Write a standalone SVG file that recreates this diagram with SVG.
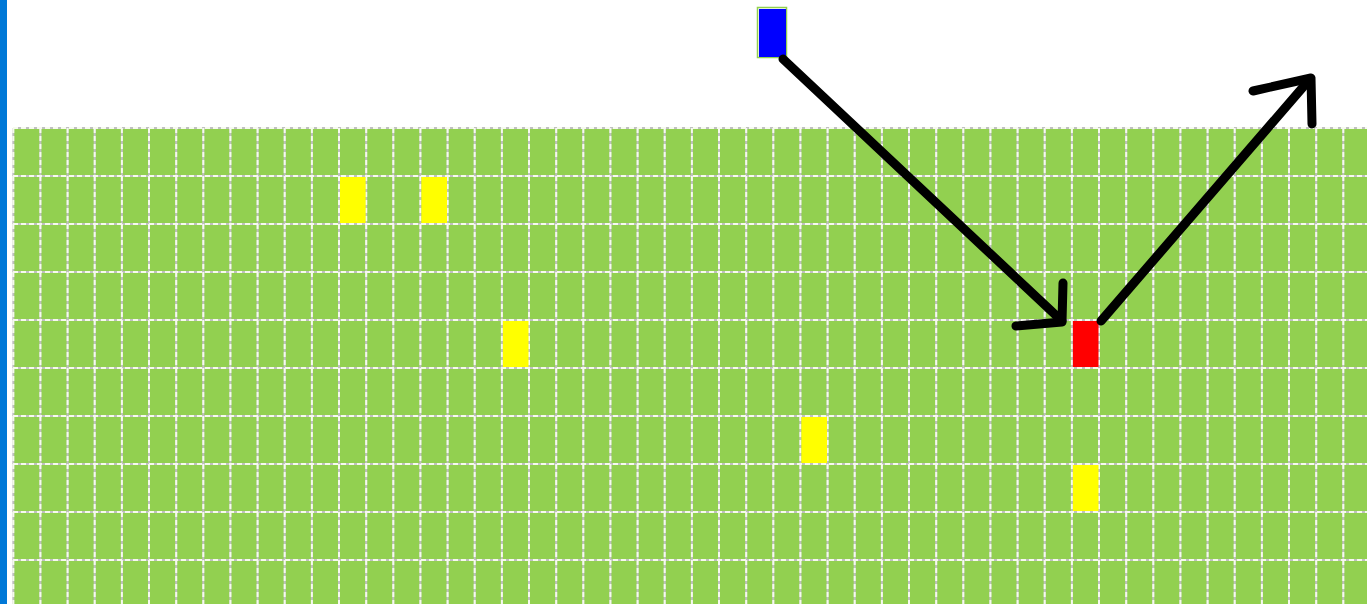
<svg xmlns="http://www.w3.org/2000/svg" xmlns:xlink="http://www.w3.org/1999/xlink" width="1367" height="604" viewBox="0 0 1367 604">
<style>
.gl{fill:none;stroke:#c0c0c0;stroke-width:2}
.gd{fill:none;stroke:#f6faee;stroke-width:2;stroke-dasharray:5 3}
.yel{fill:#ffff00}
.red{fill:#ff0000}
.blu{fill:#0000ff}
.arr{fill:none;stroke:#000;stroke-width:9;stroke-linecap:round;stroke-linejoin:round}
</style>
<defs>
<path id="vl" d="M13.3 128V604M40.4 128V604M67.6 128V604M94.7 128V604M121.9 128V604M149 128V604M176.2 128V604M203.3 128V604M230.4 128V604M257.6 128V604M284.7 128V604M311.9 128V604M339 128V604M366.2 128V604M393.3 128V604M420.4 128V604M447.6 128V604M474.7 128V604M501.9 128V604M529 128V604M556.2 128V604M583.3 128V604M610.4 128V604M637.6 128V604M664.7 128V604M691.9 128V604M719 128V604M746.2 128V604M773.3 128V604M800.4 128V604M827.6 128V604M854.7 128V604M881.9 128V604M909 128V604M936.2 128V604M963.3 128V604M990.4 128V604M1017.6 128V604M1044.7 128V604M1071.9 128V604M1099 128V604M1126.2 128V604M1153.3 128V604M1180.4 128V604M1207.6 128V604M1234.7 128V604M1261.9 128V604M1289 128V604M1316.2 128V604M1343.3 128V604"/>
<path id="hl" d="M13 128H1367M13 176H1367M13 224H1367M13 272H1367M13 320H1367M13 368H1367M13 416H1367M13 464H1367M13 512H1367M13 560H1367"/>
</defs>
<rect x="0" y="0" width="1367" height="604" fill="#ffffff"/>
<rect x="0" y="0" width="7" height="604" fill="#0078d7"/>
<g id="grid">
<rect x="13" y="128" width="1354" height="476" fill="#92d050"/>
<use xlink:href="#vl" class="gl"/>
<use xlink:href="#hl" class="gl"/>
<use xlink:href="#vl" class="gd"/>
<use xlink:href="#hl" class="gd"/>
</g>
<g id="cell-y1"><rect class="yel" x="340" y="177" width="25.6" height="46"/></g>
<g id="cell-y2"><rect class="yel" x="421.4" y="177" width="25.6" height="46"/></g>
<g id="cell-y3"><rect class="yel" x="502.9" y="321" width="25.6" height="46"/></g>
<g id="cell-y4"><rect class="yel" x="801.4" y="417" width="25.6" height="46"/></g>
<g id="cell-y5"><rect class="yel" x="1072.9" y="465" width="25.6" height="46"/></g>
<g id="cell-red"><rect class="red" x="1072.9" y="321" width="25.6" height="46"/></g>
<g id="cell-blue">
<rect x="757.5" y="7.5" width="29" height="50" fill="none" stroke="#92d050" stroke-width="1.5"/>
<rect class="blu" x="759" y="9" width="27" height="48"/>
</g>
<g id="connectors">
<path class="arr" d="M783 59L1062 321"/>
<path class="arr" d="M1063 283L1062 322L1016 326"/>
<path class="arr" d="M1101 321L1310 79"/>
<path class="arr" d="M1253 91L1311 78L1312 124"/>
</g>
</svg>
